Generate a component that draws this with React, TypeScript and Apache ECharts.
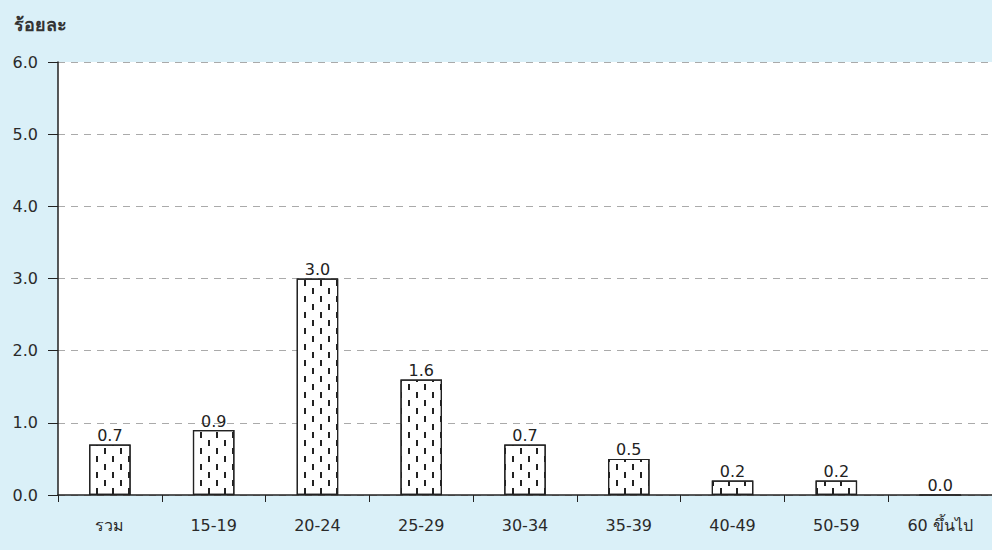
import React, { useEffect, useRef } from "react";
import * as echarts from "echarts";

const categories = ["รวม", "15-19", "20-24", "25-29", "30-34", "35-39", "40-49", "50-59", "60 ขึ้นไป"];
const values = [0.7, 0.9, 3.0, 1.6, 0.7, 0.5, 0.2, 0.2, 0.0];
const yTicks = [0, 1, 2, 3, 4, 5, 6];
const yTitle = "ร้อยละ";

const FONT = "'DejaVu Sans', 'Noto Sans', sans-serif";

export default function App() {
  const ref = useRef<HTMLDivElement>(null);
  useEffect(() => {
    if (!ref.current) return;
    const chart = echarts.init(ref.current, null, { renderer: "svg" });
    chart.setOption({
      animation: false,
      backgroundColor: "#daf0f8",
      title: {
        text: yTitle,
        left: 9,
        top: 10,
        textStyle: { fontFamily: "'Noto Sans', sans-serif", fontSize: 18, fontWeight: "bold", color: "#333" },
      },
      grid: { left: 58, top: 62, right: 0, bottom: 55, show: true, backgroundColor: "#ffffff", borderWidth: 0 },
      xAxis: {
        type: "category",
        data: categories,
        axisLine: { lineStyle: { color: "#222", width: 1.5 } },
        axisTick: { show: true, length: 7, lineStyle: { color: "#222" } },
        axisLabel: { margin: 22, fontFamily: FONT, fontSize: 16, color: "#2a2a2a", fontWeight: "normal" },
      },
      yAxis: {
        type: "value",
        min: yTicks[0],
        max: yTicks[yTicks.length - 1],
        interval: 1,
        axisLine: { show: true, lineStyle: { color: "#222", width: 1.5 } },
        axisTick: { show: true, length: 10, lineStyle: { color: "#222" } },
        axisLabel: {
          margin: 20,
          fontFamily: FONT,
          fontSize: 16,
          color: "#2a2a2a",
          fontWeight: "normal",
          formatter: (v: number) => v.toFixed(1),
        },
        splitLine: { show: true, lineStyle: { color: "#aaa", type: [7, 6] } },
      },
      series: [
        {
          type: "bar",
          data: values,
          barWidth: "40%",
          itemStyle: {
            color: "#ffffff",
            borderColor: "#222",
            borderWidth: 1.2,
            decal: {
              symbol: "rect",
              symbolSize: 1,
              color: "#222",
              backgroundColor: "#ffffff",
              dashArrayX: [[2, 14], [0, 8, 2, 6]],
              dashArrayY: [6, 2],
              rotation: 0,
            },
          },
          label: {
            show: true,
            position: "top",
            distance: 1,
            fontFamily: FONT,
            fontSize: 16,
            color: "#222",
            formatter: (p: any) => Number(p.value).toFixed(1),
          },
        },
      ],
    });
    return () => chart.dispose();
  }, []);
  return <div ref={ref} style={{ position: "absolute", left: 0, top: 0, width: 992, height: 550 }} />;
}
